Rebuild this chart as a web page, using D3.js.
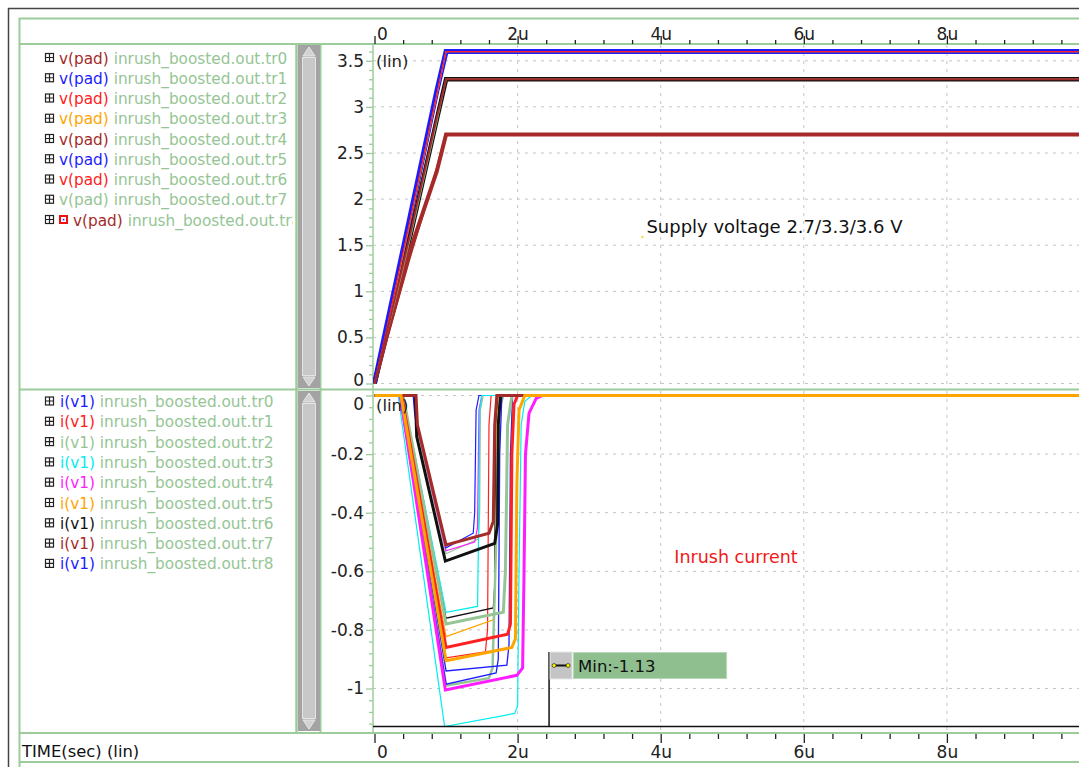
<!DOCTYPE html>
<html>
<head>
<meta charset="utf-8">
<script src="https://cdn.jsdelivr.net/npm/d3@7"></script>
<style>
  body { margin: 0; background: #fff; }
  svg { display: block; font-family: "DejaVu Sans", sans-serif; }
</style>
</head>
<body>
<div id="chart"></div>
<script>
// ---- data (time in microseconds) ----
const traceNames = ["tr0", "tr1", "tr2", "tr3", "tr4", "tr5", "tr6", "tr7", "tr8"];
const fileName = "inrush_boosted.out.";

// v(pad): ramp then flat, sampled at vTime
const vTime = [0, 0.15, 0.5, 0.87, 1.0, 10];
const vpadTr0 = [0, 0.48, 1.62, 2.88, 3.3, 3.3];
const vpadTr1 = [0, 0.55, 1.82, 3.17, 3.6, 3.6];
const vpadTr2 = [0, 0.52, 1.78, 3.13, 3.6, 3.6];
const vpadTr3 = [0, 0.5, 1.76, 3.12, 3.6, 3.6];
const vpadTr4 = [0, 0.42, 1.38, 2.33, 2.7, 2.7];
const vpadTr5 = [0, 0.54, 1.8, 3.16, 3.6, 3.6];
const vpadTr6 = [0, 0.47, 1.6, 2.86, 3.3, 3.3];
const vpadTr7 = [0, 0.46, 1.58, 2.84, 3.3, 3.3];
const vpadTr8 = [0, 0.45, 1.45, 2.3, 2.7, 2.7];
const vpadSeries = [vpadTr0, vpadTr1, vpadTr2, vpadTr3, vpadTr4, vpadTr5, vpadTr6, vpadTr7, vpadTr8];

// i(v1): [time, current] pairs
const iv1Tr0 = [[0,0],[0.35,0],[1.0,-0.985],[1.7,-0.947],[1.73,-0.9],[1.75,-0.2],[1.78,0],[10,0]];
const iv1Tr1 = [[0,0],[0.38,0],[1.0,-0.86],[1.86,-0.815],[1.9,-0.78],[1.92,-0.2],[1.95,-0.03],[2.0,0],[10,0]];
const iv1Tr2 = [[0,0],[0.4,0],[1.0,-0.78],[1.8,-0.74],[1.83,-0.6],[1.86,-0.1],[1.92,0],[10,0]];
const iv1Tr3 = [[0,0],[0.33,0],[0.98,-1.13],[1.96,-1.085],[2.0,-1.06],[2.02,-0.6],[2.05,-0.1],[2.1,-0.02],[2.2,0],[10,0]];
const iv1Tr4 = [[0,0],[0.36,0],[0.99,-1.005],[1.99,-0.955],[2.07,-0.93],[2.09,-0.6],[2.11,-0.2],[2.16,-0.06],[2.26,-0.01],[2.35,0],[10,0]];
const iv1Tr5 = [[0,0],[0.37,0],[1.0,-0.905],[1.92,-0.86],[1.97,-0.83],[1.99,-0.3],[2.02,-0.05],[2.1,0],[10,0]];
const iv1Tr6 = [[0,0],[0.57,0],[0.59,-0.14],[0.99,-0.565],[1.68,-0.505],[1.72,-0.44],[1.73,-0.1],[1.76,0],[10,0]];
const iv1Tr7 = [[0,0],[0.58,0],[0.6,-0.1],[1.0,-0.51],[1.6,-0.47],[1.66,-0.43],[1.68,-0.1],[1.71,0],[10,0]];
const iv1Tr8 = [[0,0],[0.36,0],[1.0,-0.94],[1.85,-0.92],[1.88,-0.85],[1.9,-0.2],[1.93,0],[10,0]];
const iv1Series = [iv1Tr0, iv1Tr1, iv1Tr2, iv1Tr3, iv1Tr4, iv1Tr5, iv1Tr6, iv1Tr7, iv1Tr8];

// other corners of the sweep (thin, unlabelled)
const iv1Extra = [
  [[0,0],[0.37,0],[1.0,-0.895],[1.55,-0.875],[1.58,-0.8],[1.6,-0.1],[1.63,0],[10,0]],
  [[0,0],[0.38,0],[1.0,-0.823],[1.66,-0.766],[1.68,-0.7],[1.7,-0.1],[1.73,0],[10,0]],
  [[0,0],[0.39,0],[1.0,-0.76],[1.66,-0.725],[1.68,-0.65],[1.69,-0.1],[1.72,0],[10,0]],
  [[0,0],[0.56,0],[0.58,-0.1],[1.0,-0.54],[1.45,-0.49],[1.47,-0.4],[1.48,-0.05],[1.52,0],[10,0]],
  [[0,0],[0.55,0],[0.57,-0.08],[1.0,-0.53],[1.4,-0.5],[1.44,-0.45],[1.46,-0.05],[1.5,0],[10,0]],
  [[0,0],[0.54,0],[0.56,-0.06],[1.0,-0.52],[1.38,-0.47],[1.4,-0.4],[1.42,-0.05],[1.46,0],[10,0]],
  [[0,0],[0.4,0],[1.0,-0.74],[1.44,-0.72],[1.46,-0.38],[1.47,-0.05],[1.5,0],[10,0]],
  [[0,0],[0.36,0],[1.0,-0.99],[1.6,-0.965],[1.65,-0.93],[1.7,-0.5],[1.74,-0.05],[1.8,0],[10,0]]
];

const vTicks = [0, 0.5, 1, 1.5, 2, 2.5, 3, 3.5];
const iTicks = [0, -0.2, -0.4, -0.6, -0.8, -1];
const timeTicks = [0, 2, 4, 6, 8];
const minValue = -1.13;
const minMarkerTime = 2.44;

// ---- styles ----
const BROWN = "#a52a2a", BLUE = "#1c1cff", RED = "#ff2020", ORANGE = "#ffa500",
      LGREEN = "#95c595", CYAN = "#00eef0", MAGENTA = "#ff1cff", BLACK = "#111";
const UI_GREEN = "#9ccb9c";
const vpadLabelColors = [BROWN, BLUE, RED, ORANGE, BROWN, BLUE, RED, LGREEN, BROWN];
const vpadLineColors  = [BROWN, BLUE, RED, ORANGE, BROWN, BLUE, BLACK, LGREEN, BROWN];
const vpadLineWidths  = [2, 5, 1.2, 1.2, 2, 3.5, 4.5, 1.5, 4];
const vpadDrawOrder   = [1, 6, 8, 5, 3, 7, 2, 0, 4];
const iv1Colors = [BLUE, RED, LGREEN, CYAN, MAGENTA, ORANGE, BLACK, BROWN, BLUE];
const iv1Widths = [1.3, 3, 3, 1.2, 3, 3, 3, 3, 1.3];
const iv1DrawOrder = [0, 8, 3, 4, 2, 1, 6, 7, 5];
const extraColors = [RED, ORANGE, BLACK, LGREEN, MAGENTA, BLUE, CYAN, LGREEN];
const extraWidths = [1.2, 1.2, 1.2, 1.2, 1.2, 1.2, 1.2, 2.5];

const W = 1079, H = 767;
const svg = d3.select("#chart").append("svg").attr("width", W).attr("height", H);

const x = d3.scaleLinear().domain([0, 10]).range([374.5, 1090]);
const yV = d3.scaleLinear().domain([0, 3.5]).range([383.5, 60.8]);
const yI = d3.scaleLinear().domain([0, -1]).range([395.5, 688.5]);

const plotLeft = 373, upTop = 45, upBottom = 389, loTop = 391, loBottom = 732;

// ---- frame ----
svg.append("path").attr("d", `M8.5,767V8.5H${W}`).attr("fill", "none").attr("stroke", "#444").attr("stroke-width", 1.5);
const frame = svg.append("g").attr("stroke", UI_GREEN).attr("fill", "none");
frame.append("path").attr("d", `M19.5,767V18.5H${W}`).attr("stroke-width", 2);
frame.append("line").attr("x1", 19).attr("x2", W).attr("y1", 44).attr("y2", 44).attr("stroke-width", 2);
frame.append("line").attr("x1", 19).attr("x2", W).attr("y1", 389.5).attr("y2", 389.5).attr("stroke-width", 2);
frame.append("line").attr("x1", 19).attr("x2", W).attr("y1", 733).attr("y2", 733).attr("stroke-width", 2);
frame.append("line").attr("x1", 19).attr("x2", W).attr("y1", 762).attr("y2", 762).attr("stroke-width", 2);
frame.append("line").attr("x1", 296.5).attr("x2", 296.5).attr("y1", 44).attr("y2", 733).attr("stroke-width", 2.5);
frame.append("line").attr("x1", 320.5).attr("x2", 320.5).attr("y1", 44).attr("y2", 733).attr("stroke-width", 2);
frame.append("line").attr("x1", plotLeft).attr("x2", plotLeft).attr("y1", 44).attr("y2", 733).attr("stroke-width", 1.5);

// ---- scrollbars ----
function scrollbar(top, bottom) {
  const g = svg.append("g");
  g.append("rect").attr("x", 298).attr("y", top).attr("width", 22).attr("height", bottom - top).attr("fill", "#a3a3a3");
  g.append("rect").attr("x", 302.5).attr("y", top + 12.5).attr("width", 13).attr("height", bottom - top - 25)
    .attr("fill", "#c8c8c8").attr("stroke", "#e4e4e4");
  g.append("path").attr("d", `M303,${top + 11}L309,${top + 2}L315,${top + 11}Z`).attr("fill", "#d2d2d2").attr("stroke", "#e8e8e8");
  g.append("path").attr("d", `M303,${bottom - 11}L309,${bottom - 2}L315,${bottom - 11}Z`).attr("fill", "#d2d2d2").attr("stroke", "#e8e8e8");
}
scrollbar(45, 388);
scrollbar(391, 731);

// ---- legends ----
svg.append("clipPath").attr("id", "legclip").append("rect").attr("x", 20).attr("y", 45).attr("width", 273).attr("height", 688);
const legend = svg.append("g").attr("clip-path", "url(#legclip)").style("font-size", "15.3px");

function plusBox(g, cy) {
  g.append("rect").attr("x", 45.5).attr("y", cy - 4.5).attr("width", 8).attr("height", 8)
    .attr("fill", "#fff").attr("stroke", "#222").attr("stroke-width", 1.2);
  g.append("path").attr("d", `M45.5,${cy - 0.5}H53.5M49.5,${cy - 4.5}V${cy + 3.5}`).attr("stroke", "#222").attr("stroke-width", 1.2);
}

traceNames.forEach((name, i) => {
  const cy = 58 + i * 20.25;
  plusBox(legend, cy);
  let tx = 59;
  if (i === 8) {
    legend.append("rect").attr("x", 59).attr("y", cy - 5).attr("width", 9).attr("height", 9).attr("fill", "#f01010");
    legend.append("rect").attr("x", 61).attr("y", cy - 3).attr("width", 5).attr("height", 5).attr("fill", "#fff");
    legend.append("rect").attr("x", 62.8).attr("y", cy - 1.2).attr("width", 1.6).attr("height", 1.6).attr("fill", BLUE);
    tx = 73;
  }
  const t = legend.append("text").attr("x", tx).attr("y", cy + 5.5);
  t.append("tspan").attr("fill", vpadLabelColors[i]).text("v(pad)");
  t.append("tspan").attr("fill", LGREEN).text(" " + fileName + name);
});

traceNames.forEach((name, i) => {
  const cy = 401.5 + i * 20.3;
  plusBox(legend, cy);
  const t = legend.append("text").attr("x", 60).attr("y", cy + 5.5);
  t.append("tspan").attr("fill", iv1Colors[i]).text("i(v1)");
  t.append("tspan").attr("fill", LGREEN).text(" " + fileName + name);
});

// ---- grids ----
const grid = svg.append("g").attr("stroke", "#c4c4c4").attr("stroke-dasharray", "3,5").attr("stroke-width", 1);
timeTicks.filter(d => d > 0).forEach(d => {
  grid.append("line").attr("x1", x(d)).attr("x2", x(d)).attr("y1", upTop).attr("y2", upBottom);
  grid.append("line").attr("x1", x(d)).attr("x2", x(d)).attr("y1", loTop).attr("y2", loBottom);
});
vTicks.forEach(d => grid.append("line").attr("x1", plotLeft).attr("x2", W).attr("y1", yV(d)).attr("y2", yV(d)));
iTicks.forEach(d => grid.append("line").attr("x1", plotLeft).attr("x2", W).attr("y1", yI(d)).attr("y2", yI(d)));

// ---- y axes ----
function styleAxis(g, color) {
  g.select(".domain").remove();
  g.selectAll("line").attr("stroke", color).attr("stroke-width", 1.3);
  g.selectAll("text").attr("fill", "#222").style("font-size", "17px").style("font-family", "DejaVu Sans");
}
const vMinor = d3.range(1, 37).map(d => d / 10).filter(d => Math.abs(d * 2 - Math.round(d * 2)) > 1e-6);
const iMinor = d3.range(1, 29).map(d => -d * 0.04).filter(d => Math.abs(d * 5 - Math.round(d * 5)) > 1e-6);

svg.append("g").attr("transform", `translate(${plotLeft},0)`)
  .call(d3.axisLeft(yV).tickValues(vMinor).tickSize(4).tickFormat(""))
  .call(g => styleAxis(g, UI_GREEN));
svg.append("g").attr("transform", `translate(${plotLeft},0)`)
  .call(d3.axisLeft(yV).tickValues(vTicks).tickSize(7).tickPadding(2).tickFormat(d => String(d)))
  .call(g => styleAxis(g, UI_GREEN))
  .call(g => g.selectAll("text").filter(d => d === 0).attr("dy", "0.1em"));
svg.append("g").attr("transform", `translate(${plotLeft},0)`)
  .call(d3.axisLeft(yI).tickValues(iMinor).tickSize(4).tickFormat(""))
  .call(g => styleAxis(g, UI_GREEN));
svg.append("g").attr("transform", `translate(${plotLeft},0)`)
  .call(d3.axisLeft(yI).tickValues(iTicks).tickSize(7).tickPadding(2).tickFormat(d => String(d)))
  .call(g => styleAxis(g, UI_GREEN))
  .call(g => g.selectAll("text").filter(d => d === 0).attr("dy", "0.85em"));

// ---- time axes (top and bottom) ----
const tMinor = d3.range(1, 26).map(d => d * 0.4).filter(d => Math.abs(d / 2 - Math.round(d / 2)) > 1e-6);
const timeFmt = d => d === 0 ? "0" : d + "u";
function styleTime(g) {
  styleAxis(g, "#222");
  g.selectAll("text").filter(d => d === 0).attr("text-anchor", "start").attr("dx", 2);
}
svg.append("g").attr("transform", "translate(0,44)")
  .call(d3.axisTop(x).tickValues(tMinor).tickSize(4).tickFormat(""))
  .call(styleTime);
svg.append("g").attr("transform", "translate(0,44)")
  .call(d3.axisTop(x).tickValues(timeTicks).tickSize(8).tickPadding(-4).tickFormat(timeFmt))
  .call(styleTime);
svg.append("g").attr("transform", "translate(0,734)")
  .call(d3.axisBottom(x).tickValues(tMinor).tickSize(5).tickFormat(""))
  .call(styleTime);
svg.append("g").attr("transform", "translate(0,734)")
  .call(d3.axisBottom(x).tickValues(timeTicks).tickSize(9).tickPadding(3).tickFormat(timeFmt))
  .call(styleTime);

svg.append("text").attr("x", 22).attr("y", 757).attr("fill", "#111").style("font-size", "16.4px").text("TIME(sec) (lin)");

// ---- clip regions ----
svg.append("clipPath").attr("id", "clipUp").append("rect")
  .attr("x", plotLeft).attr("y", upTop).attr("width", W - plotLeft).attr("height", upBottom - upTop);
svg.append("clipPath").attr("id", "clipLo").append("rect")
  .attr("x", plotLeft).attr("y", loTop).attr("width", W - plotLeft).attr("height", loBottom - loTop);

// ---- upper plot: v(pad) ----
const upper = svg.append("g").attr("clip-path", "url(#clipUp)");
const vLine = d3.line().x((d, k) => x(vTime[k])).y(d => yV(d));
vpadDrawOrder.forEach(i => {
  upper.append("path").datum(vpadSeries[i])
    .attr("fill", "none").attr("stroke", vpadLineColors[i]).attr("stroke-width", vpadLineWidths[i])
    .attr("stroke-linejoin", "miter").attr("d", vLine);
});
svg.append("text").attr("x", 376).attr("y", 67).attr("fill", "#222").style("font-size", "16.5px").text("(lin)");
svg.append("text").attr("x", x(3.8)).attr("y", yV(1.63)).attr("fill", "#111").style("font-size", "18px")
  .text("Supply voltage 2.7/3.3/3.6 V");
svg.append("rect").attr("x", x(3.73)).attr("y", yV(1.6)).attr("width", 2).attr("height", 2).attr("fill", "#f0e020");

// ---- lower plot: i(v1) ----
const lower = svg.append("g").attr("clip-path", "url(#clipLo)");
const iLine = d3.line().x(d => x(d[0])).y(d => yI(d[1]));
iv1Extra.forEach((s, k) => {
  lower.append("path").datum(s).attr("fill", "none")
    .attr("stroke", extraColors[k]).attr("stroke-width", extraWidths[k]).attr("d", iLine);
});
iv1DrawOrder.forEach(i => {
  lower.append("path").datum(iv1Series[i]).attr("fill", "none")
    .attr("stroke", iv1Colors[i]).attr("stroke-width", iv1Widths[i]).attr("d", iLine);
});
svg.append("text").attr("x", 376).attr("y", 411).attr("fill", "#222").style("font-size", "16.5px").text("(lin)");
svg.append("text").attr("x", x(4.19)).attr("y", yI(-0.572)).attr("fill", "#f01818").style("font-size", "17.5px")
  .text("Inrush current");

// ---- min marker ----
const boxTop = 652, boxH = 27;
lower.append("line").attr("x1", plotLeft).attr("x2", W).attr("y1", yI(minValue)).attr("y2", yI(minValue))
  .attr("stroke", "#111").attr("stroke-width", 1.5);
svg.append("line").attr("x1", x(minMarkerTime)).attr("x2", x(minMarkerTime)).attr("y1", boxTop).attr("y2", yI(minValue))
  .attr("stroke", "#111").attr("stroke-width", 1.5);
const mx = x(minMarkerTime);
svg.append("rect").attr("x", mx + 1).attr("y", boxTop).attr("width", 22).attr("height", boxH)
  .attr("fill", "#c4c4c4").attr("stroke", "#e6e6e6");
svg.append("line").attr("x1", mx + 5).attr("x2", mx + 19).attr("y1", boxTop + 13.5).attr("y2", boxTop + 13.5)
  .attr("stroke", "#111").attr("stroke-width", 2);
[mx + 5, mx + 19].forEach(cx => svg.append("circle").attr("cx", cx).attr("cy", boxTop + 13.5).attr("r", 2)
  .attr("fill", "#f5f000").attr("stroke", "#111").attr("stroke-width", 0.6));
svg.append("rect").attr("x", mx + 24.5).attr("y", boxTop + 0.5).attr("width", 153).attr("height", boxH - 1)
  .attr("fill", "#8fbf8f").attr("stroke", "#b6d8b6");
svg.append("text").attr("x", mx + 29).attr("y", boxTop + 20).attr("fill", "#111").style("font-size", "16.5px")
  .text("Min:" + minValue);
</script>
</body>
</html>
